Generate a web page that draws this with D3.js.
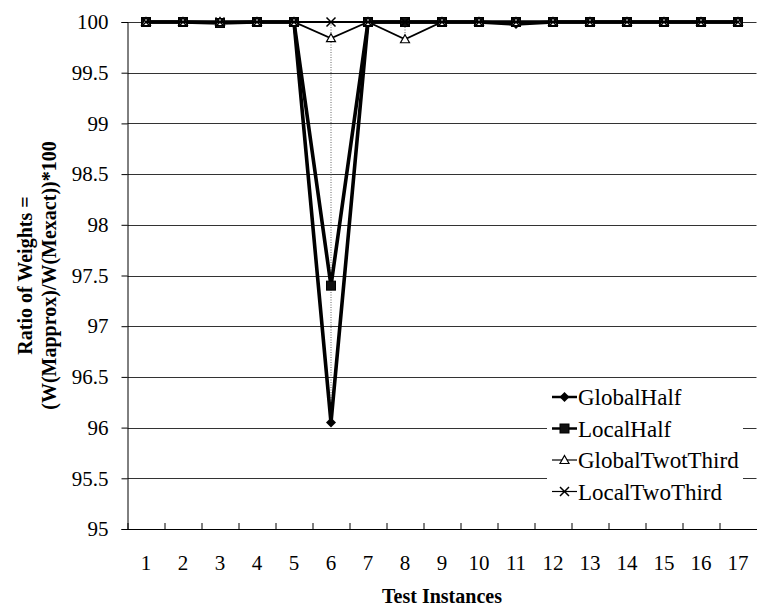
<!DOCTYPE html>
<html>
<head>
<meta charset="utf-8">
<script src="https://cdn.jsdelivr.net/npm/d3@7"></script>
<style>
  body { margin: 0; background: #fff; }
  svg { display: block; }
  .tick text { font-family: "Liberation Serif", "Times New Roman", serif; }
</style>
</head>
<body>
<div id="chart"></div>
<script>

// Data.
var instances = [1, 2, 3, 4, 5, 6, 7, 8, 9, 10, 11, 12, 13, 14, 15, 16, 17];

var globalHalf      = [100, 100, 100, 100, 100, 96.05, 100, 100, 100, 100, 99.98, 100, 100, 100, 100, 100, 100];
var localHalf       = [100, 100, 99.99, 100, 100, 97.4, 100, 100, 100, 100, 100, 100, 100, 100, 100, 100, 100];
var globalTwoThird  = [100, 100, 100, 100, 100, 99.84, 100, 99.83, 100, 100, 100, 100, 100, 100, 100, 100, 100];
var localTwoThird   = [100, 100, 100, 100, 100, 100, 100, 100, 100, 100, 100, 100, 100, 100, 100, 100, 100];

var seriesNames = ["GlobalHalf", "LocalHalf", "GlobalTwotThird", "LocalTwoThird"];
var yTicks = [95, 95.5, 96, 96.5, 97, 97.5, 98, 98.5, 99, 99.5, 100];

var series = [
  {name: seriesNames[0], values: globalHalf,     marker: "diamond",  width: 3.6},
  {name: seriesNames[1], values: localHalf,      marker: "square",   width: 3.6},
  {name: seriesNames[2], values: globalTwoThird, marker: "triangle", width: 1.8},
  {name: seriesNames[3], values: localTwoThird,  marker: "cross",    width: 1.8}
];

var width = 757,
  height = 609;
var margin = {top: 22, right: 0.5, bottom: 80, left: 127.5};
var chartW = width - margin.left - margin.right;
var chartH = height - margin.top - margin.bottom;

var serif = '"Liberation Serif", "Times New Roman", serif';

var svg = d3.select("#chart").append("svg")
  .attr("width", width)
  .attr("height", height);

var g = svg.append("g")
  .attr("transform", "translate(" + margin.left + "," + margin.top + ")");

var xScale = d3.scaleBand()
  .domain(instances)
  .range([0, chartW]);

var yScale = d3.scaleLinear()
  .domain([95, 100])
  .range([chartH, 0]);

function cx(i) { return xScale(instances[i]) + xScale.bandwidth() / 2; }

// horizontal gridlines
g.append("g")
  .attr("class", "grid")
  .selectAll("line")
  .data(yTicks.slice(1))
  .enter().append("line")
    .attr("x1", 0)
    .attr("x2", chartW)
    .attr("y1", function(d) { return Math.round(yScale(d)) + 0.5; })
    .attr("y2", function(d) { return Math.round(yScale(d)) + 0.5; })
    .attr("stroke", "#333")
    .attr("stroke-width", 1.2);

// y axis
var yAxis = d3.axisLeft(yScale)
  .tickValues(yTicks)
  .tickSize(6)
  .tickPadding(13)
  .tickFormat(function(d) { return d; });

var yG = g.append("g").call(yAxis);
yG.selectAll("text")
  .attr("font-size", 21)
  .attr("fill", "#000");
yG.selectAll("line, path").attr("stroke", "#000");

// x axis, labels only, ticks drawn at the band edges
var xAxis = d3.axisBottom(xScale)
  .tickSize(0)
  .tickPadding(26);

var xG = g.append("g")
  .attr("transform", "translate(0," + chartH + ")")
  .call(xAxis);
xG.selectAll("text")
  .attr("font-size", 21)
  .attr("fill", "#000");
xG.select(".domain").attr("stroke", "#000");

xG.selectAll(".edge")
  .data(instances)
  .enter().append("line")
    .attr("class", "edge")
    .attr("x1", function(d) { return Math.round(xScale(d)) + 0.5; })
    .attr("x2", function(d) { return Math.round(xScale(d)) + 0.5; })
    .attr("y1", 0)
    .attr("y2", -6)
    .attr("stroke", "#000");

// high-low lines
var hiLo = g.append("g").attr("class", "hilo");
instances.forEach(function(d, i) {
  var vals = series.map(function(s) { return s.values[i]; });
  var hi = d3.max(vals), lo = d3.min(vals);
  if (hi - lo > 0.005) {
    hiLo.append("line")
      .attr("x1", cx(i)).attr("x2", cx(i))
      .attr("y1", yScale(hi)).attr("y2", yScale(lo))
      .attr("stroke", "#666")
      .attr("stroke-width", 1)
      .attr("stroke-dasharray", "1,1.5");
  }
});

function drawMarker(sel, type) {
  if (type === "diamond") {
    sel.append("path").attr("d", "M0,-5L5,0L0,5L-5,0Z").attr("fill", "#000");
  } else if (type === "square") {
    sel.append("rect").attr("x", -4.5).attr("y", -4.5).attr("width", 9).attr("height", 9)
      .attr("fill", "#111").attr("stroke", "#000");
  } else if (type === "triangle") {
    sel.append("path").attr("d", "M0,-4.5L4.5,3.5L-4.5,3.5Z")
      .attr("fill", "#fff").attr("stroke", "#000").attr("stroke-width", 1.2);
  } else {
    sel.append("path").attr("d", "M-4.5,-4.5L4.5,4.5M-4.5,4.5L4.5,-4.5")
      .attr("fill", "none").attr("stroke", "#000").attr("stroke-width", 1.5);
  }
}

var line = d3.line()
  .x(function(d, i) { return cx(i); })
  .y(function(d) { return yScale(d); });

// series lines and markers
series.forEach(function(s) {
  var sg = g.append("g").attr("class", "series");
  sg.append("path")
    .datum(s.values)
    .attr("d", line)
    .attr("fill", "none")
    .attr("stroke", "#000")
    .attr("stroke-width", s.width)
    .attr("stroke-linejoin", "miter");

  sg.selectAll(".marker")
    .data(s.values)
    .enter().append("g")
      .attr("class", "marker")
      .attr("transform", function(d, i) { return "translate(" + cx(i) + "," + yScale(d) + ")"; })
      .each(function() { drawMarker(d3.select(this), s.marker); });
});

// legend
var legend = svg.append("g").attr("class", "legend");
legend.append("rect")
  .attr("x", 547).attr("y", 383)
  .attr("width", 196).attr("height", 124)
  .attr("fill", "#fff");

series.forEach(function(s, i) {
  var ly = 397 + i * 31.5;
  var item = legend.append("g");
  item.append("line")
    .attr("x1", 552).attr("x2", 577)
    .attr("y1", ly).attr("y2", ly)
    .attr("stroke", "#000")
    .attr("stroke-width", s.width > 2 ? 2.5 : 1.2);
  var m = item.append("g").attr("transform", "translate(564.5," + ly + ")");
  drawMarker(m, s.marker);
  item.append("text")
    .attr("x", 578)
    .attr("y", ly + 8)
    .attr("font-family", serif)
    .attr("font-size", 23)
    .text(s.name);
});

// axis titles
svg.append("text")
  .attr("x", margin.left + chartW / 2)
  .attr("y", 603)
  .attr("text-anchor", "middle")
  .attr("font-family", serif)
  .attr("font-weight", "bold")
  .attr("font-size", 20)
  .text("Test Instances");

var yTitle = svg.append("text")
  .attr("transform", "translate(0," + (margin.top + chartH / 2) + ") rotate(-90)")
  .attr("text-anchor", "middle")
  .attr("font-family", serif)
  .attr("font-weight", "bold")
  .attr("font-size", 20);
yTitle.append("tspan").attr("x", 0).attr("y", 32).text("Ratio of Weights =");
yTitle.append("tspan").attr("x", 0).attr("y", 56).text("(W(Mapprox)/W(Mexact))*100");

</script>
</body>
</html>
